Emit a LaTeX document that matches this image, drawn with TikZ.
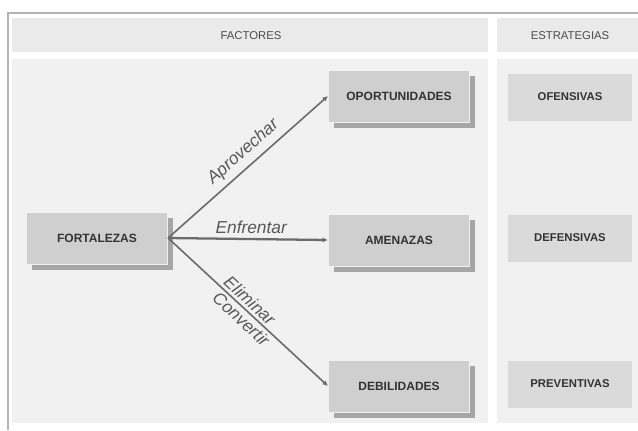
\documentclass[tikz,border=0pt]{standalone}
\usepackage{fontspec}
\setmainfont{Liberation Sans}
\usetikzlibrary{shadows,arrows.meta}
\definecolor{panelgray}{HTML}{F1F1F1}
\definecolor{bandgray}{HTML}{EAEAEA}
\definecolor{boxgray}{HTML}{CFCFCF}
\definecolor{stratgray}{HTML}{DADADA}
\definecolor{linegray}{HTML}{6B6B6B}
\definecolor{framegray}{HTML}{B4B4B4}

\begin{document}
\begin{tikzpicture}[x=0.75pt,y=-0.75pt,
  factorbox/.style={fill=boxgray, draw=white!70!boxgray, line width=0.6pt,
    minimum width=106pt, minimum height=39pt, inner sep=0pt,
    font=\fontsize{9}{10}\selectfont\bfseries, text=black!80,
    drop shadow={shadow xshift=4pt, shadow yshift=-4.5pt, fill=black!35, opacity=1}},
  stratbox/.style={fill=stratgray, draw=white!60!stratgray, line width=0.6pt,
    minimum width=94pt, minimum height=36pt, inner sep=0pt,
    font=\fontsize{8.5}{10}\selectfont\bfseries, text=black!80},
  headtext/.style={font=\fontsize{8.5}{10}\selectfont, text=black!70},
  link/.style={draw=linegray, line width=1.2pt, -{Latex[length=4pt,width=4pt]}},
  linklabel/.style={font=\fontsize{13}{15}\selectfont\itshape, text=black!65, inner sep=1pt}]
\useasboundingbox (0,0) rectangle (638,430);
\fill[white] (0,0) rectangle (638,430);

% frame and column panels
\draw[framegray, line width=1.3pt] (8,430) -- (8,13) -- (638,13);
\fill[bandgray] (12,18) rectangle (488,52);
\fill[bandgray] (497,18) rectangle (638,52);
\fill[panelgray] (12,59) rectangle (488,423);
\fill[panelgray] (497,59) rectangle (638,423);
\node[headtext] (factores) at (251,36) {FACTORES};
\node[headtext] (estrategias) at (570,36) {ESTRATEGIAS};

% factors
\node[factorbox] (fortalezas) at (97,238) {FORTALEZAS};
\node[factorbox] (oportunidades) at (399,96) {OPORTUNIDADES};
\node[factorbox] (amenazas) at (399,240) {AMENAZAS};
\node[factorbox] (debilidades) at (399,386) {DEBILIDADES};

% strategies
\node[stratbox] (ofensivas) at (570,97) {OFENSIVAS};
\node[stratbox] (defensivas) at (570,238) {DEFENSIVAS};
\node[stratbox] (preventivas) at (570,384) {PREVENTIVAS};

% links
\draw[link] (fortalezas.east) -- (oportunidades.west)
  node[linklabel, pos=0.53, sloped, above=3pt] {Aprovechar};
\draw[link, line width=1.7pt] (fortalezas.east) -- (amenazas.west)
  node[linklabel, pos=0.52, above=2pt] {Enfrentar};
\draw[link] (fortalezas.east) -- (debilidades.west)
  node[linklabel, pos=0.47, sloped, above=1pt] {Eliminar}
  node[linklabel, pos=0.50, sloped, below=1pt] {Convertir};
\end{tikzpicture}
\end{document}
